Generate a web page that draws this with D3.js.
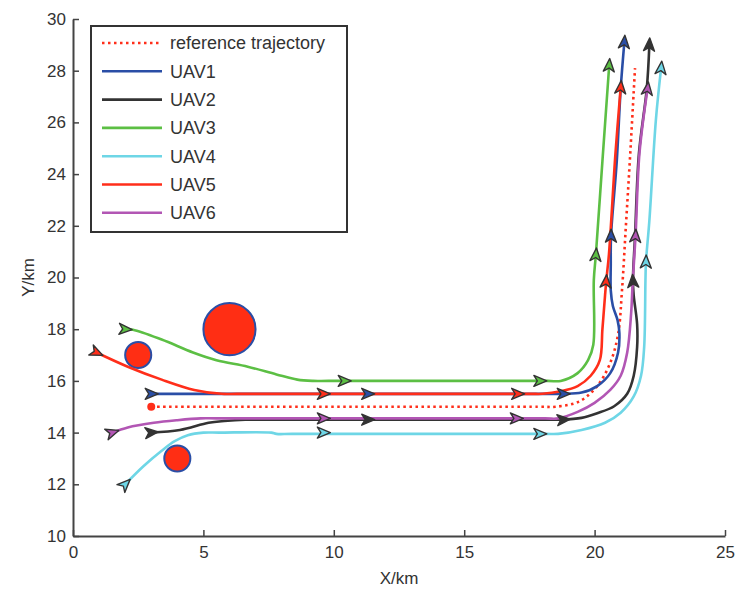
<!DOCTYPE html>
<html>
<head>
<meta charset="utf-8">
<script src="https://cdn.jsdelivr.net/npm/d3@7"></script>
<style>
  body { margin: 0; background: #fff; }
  text { font-family: "Liberation Sans", Arial, sans-serif; fill: #333; }
</style>
</head>
<body>
<svg id="chart" width="737" height="594"></svg>
<script>
// tick labels
const xTicks = [0, 5, 10, 15, 20, 25]
const yTicks = [10, 12, 14, 16, 18, 20, 22, 24, 26, 28, 30]

// obstacles (x, y, radius in km)
const obstacleX = [6, 2.5, 4]
const obstacleY = [18, 17, 13]
const obstacleR = [1, 0.5, 0.5]

// reference trajectory
const refPath = [[3, 15], [18, 15], [18.5, 15], [19.4, 15.2], [20.1, 15.8], [20.6, 16.7], [20.9, 17.8],
  [21.05, 19.5], [21.2, 22], [21.35, 24.5], [21.55, 28.1]]

const seriesNames = ['UAV1', 'UAV2', 'UAV3', 'UAV4', 'UAV5', 'UAV6']
const seriesColors = ['#2a4ea6', '#333333', '#5cbf44', '#6ed6e6', '#ff2e1a', '#b256b4']

const uav1Path = [[3, 15.5], [18.3, 15.5], [18.8, 15.5], [19.5, 15.55], [20.1, 15.8], [20.6, 16.3], [20.9, 17.1],
  [20.95, 17.85], [20.88, 18.35], [20.7, 18.9], [20.62, 19.5], [20.62, 20.5], [20.63, 21.6],
  [20.85, 24.5], [21.0, 27.3], [21.14, 29.1]]
const uav2Path = [[3, 14], [4.1, 14.1], [5.2, 14.38], [5.8, 14.45], [6.6, 14.5], [7.3, 14.5], [18.2, 14.5], [18.7, 14.5],
  [19.5, 14.57], [20.1, 14.75], [20.75, 15.02], [21.25, 15.5], [21.5, 16.2], [21.63, 17.3],
  [21.63, 18.2], [21.5, 19.3], [21.47, 19.85], [21.55, 21.6], [21.7, 24.8], [22.0, 27.3], [22.1, 29.0]]
const uav3Path = [[2, 18], [2.3, 17.98], [3.4, 17.6], [4.6, 17.1], [5.5, 16.8], [6.7, 16.55],
  [7.8, 16.25], [8.6, 16.05], [9.2, 16], [9.8, 16], [18.2, 16], [18.7, 16], [19.35, 16.3], [19.75, 16.8], [19.95, 17.4],
  [19.97, 19.9], [20.05, 20.9], [20.3, 24.5], [20.56, 28.2]]
const uav4Path = [[2, 12], [2.7, 12.7], [3.4, 13.3], [3.9, 13.67], [4.4, 13.9], [5.0, 14.0], [5.6, 14.0],
  [7.6, 14.0], [7.8, 13.95], [8.4, 13.95], [18.1, 13.95], [18.6, 13.95], [19.5, 14.1], [20.4, 14.38], [21.0, 14.77],
  [21.5, 15.4], [21.78, 16.2], [21.9, 17.3], [21.95, 19.9], [21.97, 20.6], [22.1, 22.2],
  [22.35, 26.1], [22.55, 28.1]]
const uav5Path = [[0.9, 17.1], [2.1, 16.55], [3.4, 16.05], [4.65, 15.65], [5.7, 15.5], [6.3, 15.5], [17.5, 15.5], [18.0, 15.5],
  [18.7, 15.6], [19.35, 15.8], [19.85, 16.2], [20.2, 16.8], [20.3, 18], [20.4, 19.3], [20.45, 19.9],
  [20.55, 20.9], [20.8, 24.8], [21.0, 27.35]]
const uav6Path = [[1.5, 14], [2.1, 14.2], [3.1, 14.38], [4.0, 14.48], [4.9, 14.55], [5.5, 14.55], [18.1, 14.55], [18.6, 14.55],
  [19.35, 14.8], [20.0, 15.15], [20.6, 15.65], [21.0, 16.2], [21.25, 17.1], [21.4, 18.6],
  [21.46, 19.8], [21.57, 21.6], [21.72, 24.8], [22.03, 27.3]]

// arrow marker positions along each path
const uav1Arrows = [[3, 15.5], [11.3, 15.5], [18.8, 15.5], [20.63, 21.6], [21.14, 29.1]]
const uav2Arrows = [[3, 14], [11.3, 14.5], [18.8, 14.5], [21.47, 19.85], [22.1, 29.0]]
const uav3Arrows = [[2, 18], [10.4, 16], [17.9, 16], [20.05, 20.87], [20.56, 28.2]]
const uav4Arrows = [[2, 12], [9.6, 14.0], [17.9, 13.95], [21.97, 20.6], [22.55, 28.1]]
const uav5Arrows = [[0.9, 17.1], [9.6, 15.5], [17.05, 15.5], [20.44, 19.84], [21.0, 27.35]]
const uav6Arrows = [[1.5, 14], [9.6, 14.55], [17.0, 14.55], [21.57, 21.6], [22.03, 27.3]]

const paths = [uav1Path, uav2Path, uav3Path, uav4Path, uav5Path, uav6Path]
const arrows = [uav1Arrows, uav2Arrows, uav3Arrows, uav4Arrows, uav5Arrows, uav6Arrows]

const margin = { top: 19, right: 12, bottom: 58, left: 73 }
const width = 737, height = 594

const svg = d3.select('#chart')

const x = d3.scaleLinear().domain([0, 25]).range([margin.left, width - margin.right])
const y = d3.scaleLinear().domain([10, 30]).range([height - margin.bottom, margin.top])

// axes (MATLAB style, ticks pointing in, no box)
const xAxis = svg.append('g')
  .attr('transform', `translate(0,${y(10)})`)
  .call(d3.axisBottom(x).tickValues(xTicks).tickSizeInner(-6).tickSizeOuter(0).tickPadding(10))
const yAxis = svg.append('g')
  .attr('transform', `translate(${x(0)},0)`)
  .call(d3.axisLeft(y).tickValues(yTicks).tickSizeInner(-6).tickSizeOuter(0).tickPadding(7))

;[xAxis, yAxis].forEach(a => {
  a.select('.domain').attr('stroke', '#444').attr('stroke-width', 2)
  a.selectAll('.tick line').attr('stroke', '#444').attr('stroke-width', 1.5)
  a.selectAll('.tick text').style('font-size', '17px').attr('fill', '#333')
})

svg.append('text')
  .attr('x', (x(0) + x(25)) / 2)
  .attr('y', 584)
  .attr('text-anchor', 'middle')
  .style('font-size', '17px')
  .text('X/km')

svg.append('text')
  .attr('transform', `translate(34,${y(20)}) rotate(-90)`)
  .attr('text-anchor', 'middle')
  .style('font-size', '17px')
  .text('Y/km')

const line = d3.line()
  .x(d => x(d[0]))
  .y(d => y(d[1]))
  .curve(d3.curveCatmullRom.alpha(0.5))

// reference trajectory
svg.append('path')
  .datum(refPath)
  .attr('d', line)
  .attr('fill', 'none')
  .attr('stroke', '#ff2e1a')
  .attr('stroke-width', 2.6)
  .attr('stroke-dasharray', '2.5,3.5')

svg.append('circle')
  .attr('cx', x(refPath[0][0]))
  .attr('cy', y(refPath[0][1]))
  .attr('r', 4)
  .attr('fill', '#ff2e1a')

// obstacles
obstacleX.forEach((ox, i) => {
  svg.append('circle')
    .attr('cx', x(ox))
    .attr('cy', y(obstacleY[i]))
    .attr('r', x(obstacleR[i]) - x(0))
    .attr('fill', '#ff2e14')
    .attr('stroke', '#2a4ea6')
    .attr('stroke-width', 2)
})

// trajectories
paths.forEach((p, i) => {
  svg.append('path')
    .datum(p)
    .attr('d', line)
    .attr('fill', 'none')
    .attr('stroke', seriesColors[i])
    .attr('stroke-width', 2.6)
    .attr('stroke-linejoin', 'round')
})

// heading of the path segment nearest to a point (pixel space)
function heading(p, pt) {
  let best = 0, bestD = Infinity
  const px = x(pt[0]), py = y(pt[1])
  for (let k = 0; k < p.length - 1; k++) {
    const ax = x(p[k][0]), ay = y(p[k][1]), bx = x(p[k + 1][0]), by = y(p[k + 1][1])
    const dx = bx - ax, dy = by - ay
    let t = ((px - ax) * dx + (py - ay) * dy) / (dx * dx + dy * dy)
    t = Math.max(0, Math.min(1, t))
    const d = Math.hypot(ax + t * dx - px, ay + t * dy - py)
    if (d < bestD) { bestD = d; best = k }
  }
  return Math.atan2(y(p[best + 1][1]) - y(p[best][1]), x(p[best + 1][0]) - x(p[best][0])) * 180 / Math.PI
}

const arrowShape = 'M7,0 L-6,-5.5 L-2.5,0 L-6,5.5 Z'

arrows.forEach((list, i) => {
  list.forEach(pt => {
    svg.append('path')
      .attr('d', arrowShape)
      .attr('transform', `translate(${x(pt[0])},${y(pt[1])}) rotate(${heading(paths[i], pt)})`)
      .attr('fill', seriesColors[i])
      .attr('stroke', '#333')
      .attr('stroke-width', 1.4)
      .attr('stroke-linejoin', 'round')
  })
})

// legend
const legend = svg.append('g')
legend.append('rect')
  .attr('x', 91).attr('y', 26)
  .attr('width', 256).attr('height', 206)
  .attr('fill', '#fff')
  .attr('stroke', '#333')
  .attr('stroke-width', 2)

const legendLabels = ['reference trajectory'].concat(seriesNames)
const legendColors = ['#ff2e1a'].concat(seriesColors)
legendLabels.forEach((lab, i) => {
  const ly = 43 + i * 28.3
  legend.append('line')
    .attr('x1', 102).attr('x2', 162)
    .attr('y1', ly).attr('y2', ly)
    .attr('stroke', legendColors[i])
    .attr('stroke-width', 2.6)
    .attr('stroke-dasharray', i === 0 ? '2.5,3.5' : null)
  legend.append('text')
    .attr('x', 170)
    .attr('y', ly)
    .attr('dy', '0.35em')
    .style('font-size', '18px')
    .text(lab)
})
</script>
</body>
</html>
